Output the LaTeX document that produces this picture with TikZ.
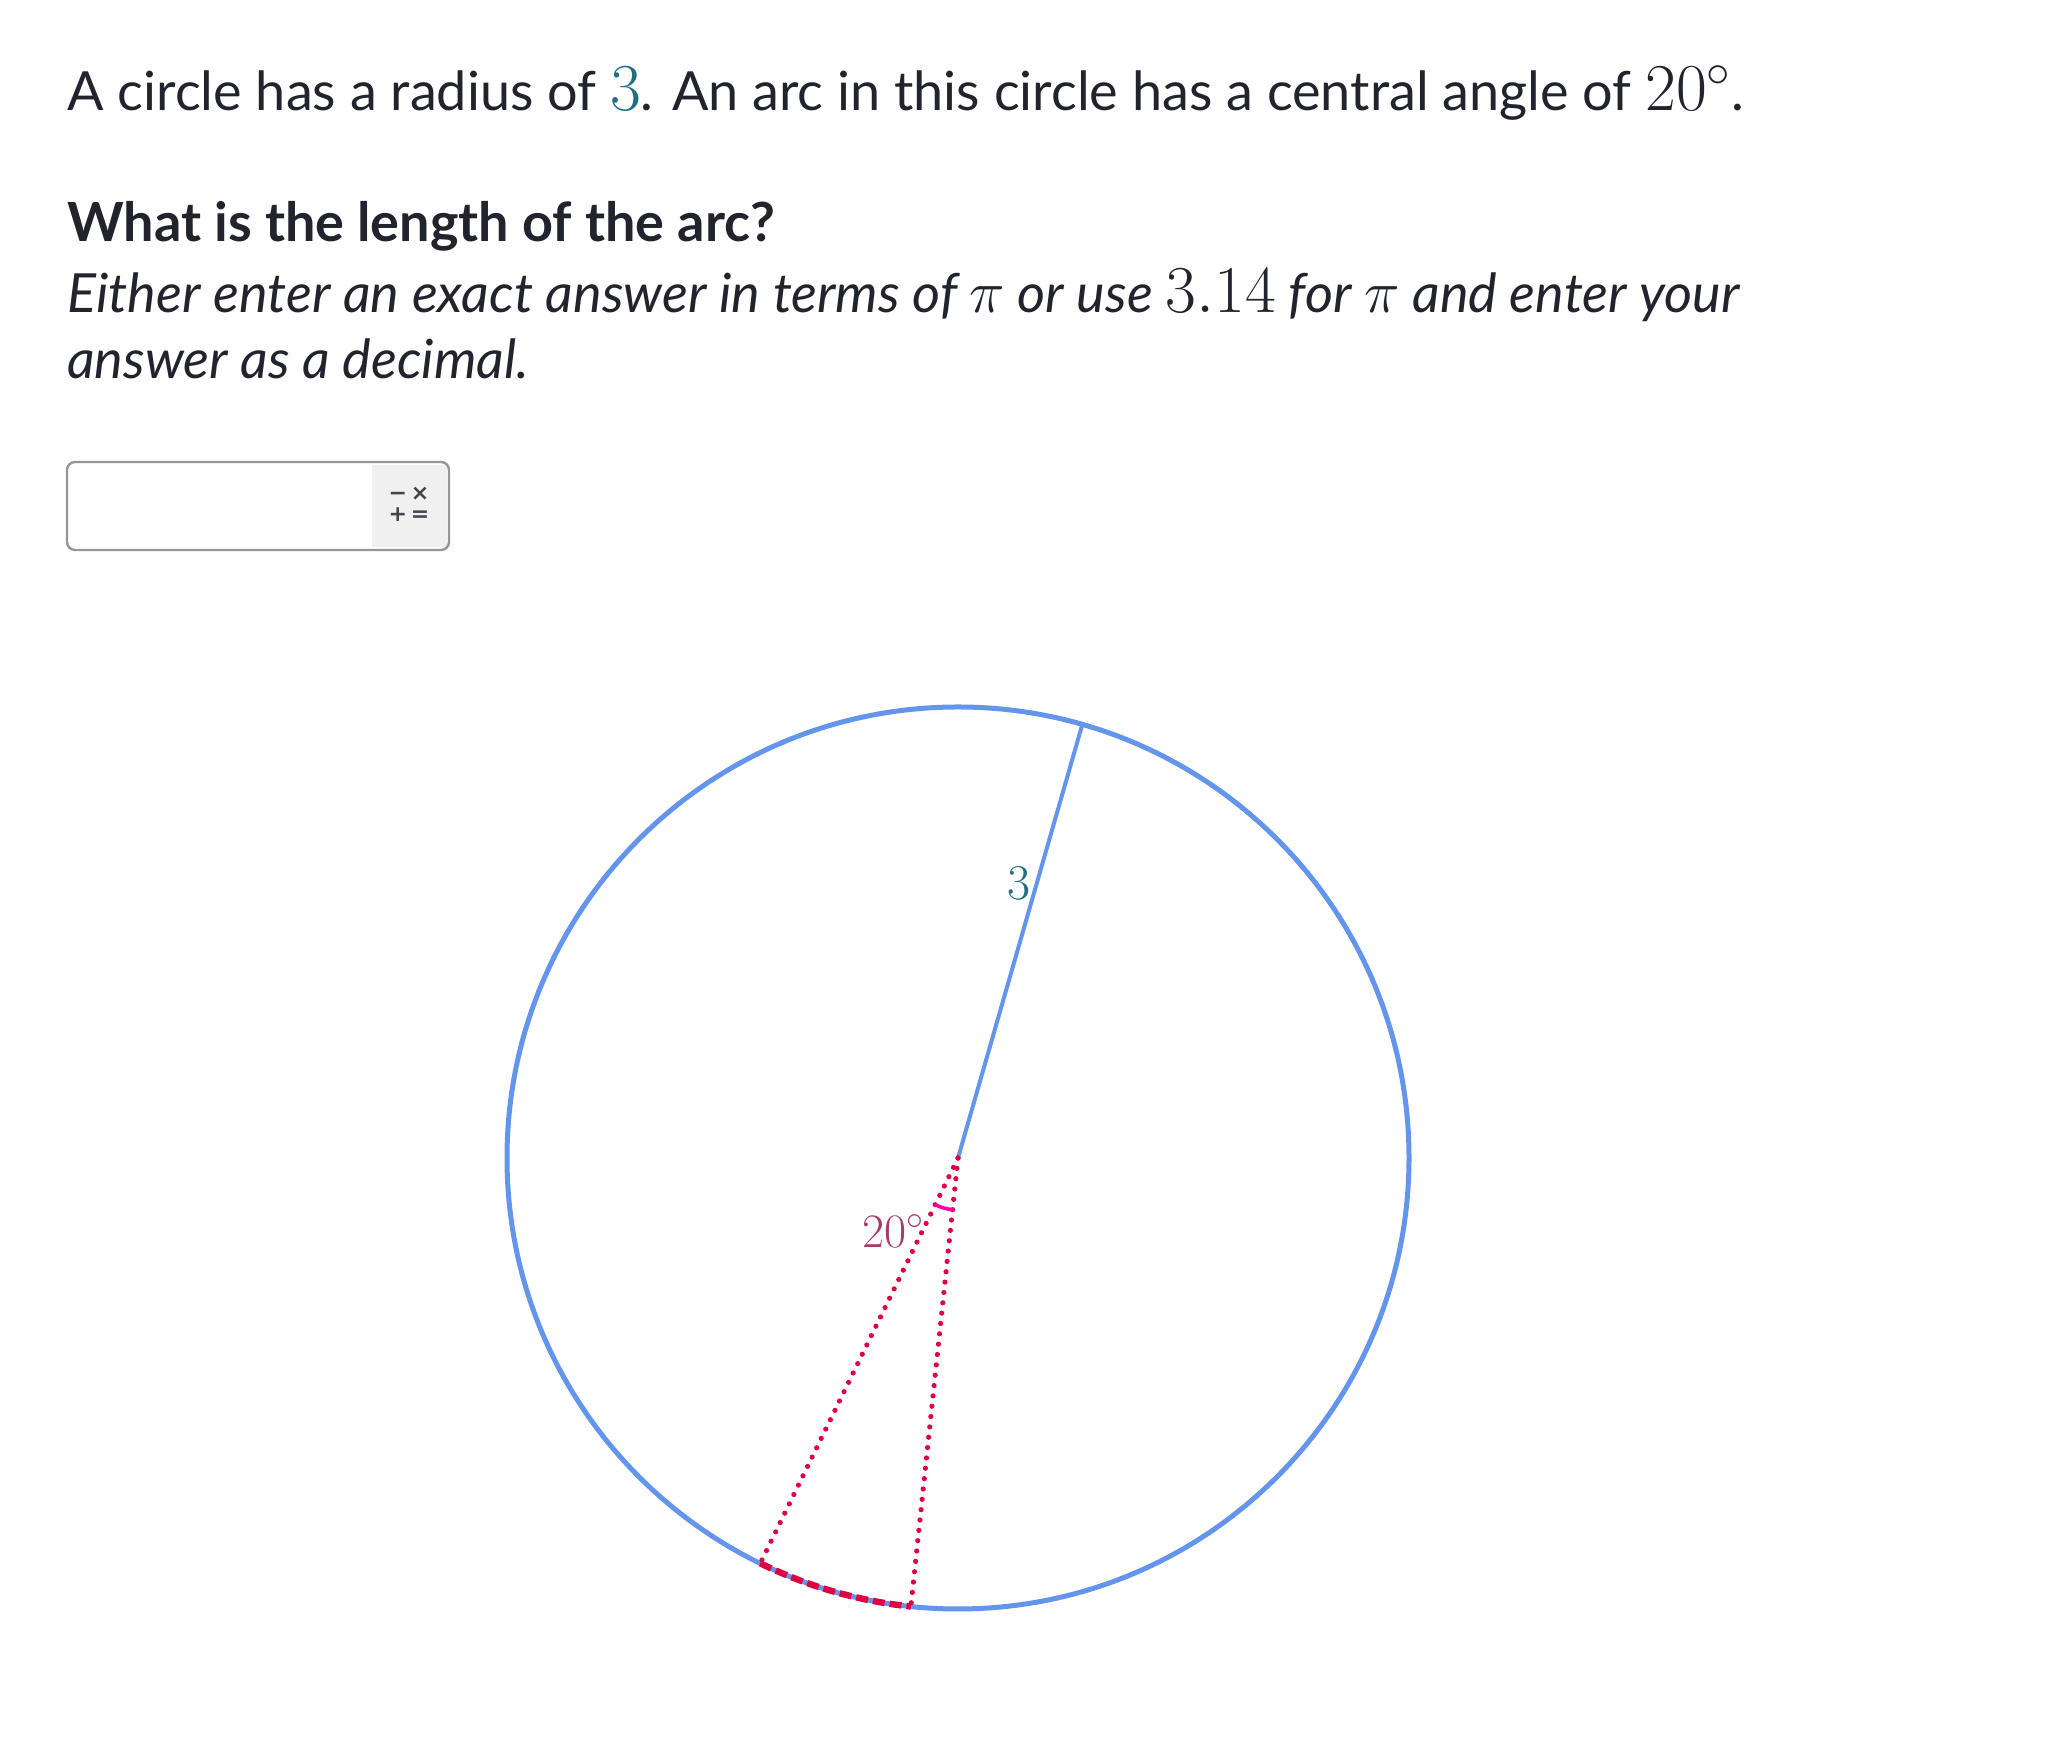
\documentclass[tikz,border=0pt]{standalone}
\usepackage{fix-cm}
\usepackage{fontspec}
\usetikzlibrary{calc}
\setmainfont{Lato}
\newfontfamily\symfont{DejaVu Sans}
\definecolor{txt}{RGB}{33,36,44}
\definecolor{cblue}{RGB}{100,149,237}
\definecolor{teal3}{RGB}{31,110,130}
\definecolor{dred}{RGB}{223,0,67}
\definecolor{magarc}{RGB}{255,0,170}
\definecolor{anglbl}{RGB}{165,60,105}
\definecolor{boxgray}{RGB}{150,150,150}
\definecolor{btngray}{RGB}{240,240,240}
\newcommand\mth[1]{{\fontsize{33.5}{36}\selectfont$#1$}}
\begin{document}
\begin{tikzpicture}[x=0.5pt,y=0.5pt,
  txtline/.style={anchor=base west,inner sep=0pt,text=txt,font=\fontsize{27}{33}\selectfont},
  rim/.style={draw=cblue,line width=2.5pt},
  radline/.style={draw=cblue,line width=2pt},
  dotline/.style={draw=dred,line width=2.6pt,dash pattern=on 0pt off 5.2pt,line cap=round},
  dasharc/.style={draw=dred,line width=3.2pt,dash pattern=on 6pt off 2.5pt},
  angmark/.style={draw=magarc,line width=1.8pt}]
\useasboundingbox (0,0) rectangle (2048,1759);
% texts
\node[txtline] (t1) at (67,1648) {A circle has a radius of \textcolor{teal3}{\mth{3}}. An arc in this circle has a central angle of \mth{20^\circ}.};
\node[txtline,font=\fontsize{27}{33}\selectfont\bfseries] (t2) at (67,1517) {What is the length of the arc?};
\node[txtline,font=\fontsize{27}{33}\selectfont\itshape] (t3) at (67,1446) {Either enter an exact answer in terms of {\fontsize{30}{33}\selectfont$\pi$} or use \mth{3.14} for {\fontsize{30}{33}\selectfont$\pi$} and enter your};
\node[txtline,font=\fontsize{27}{33}\selectfont\itshape] (t4) at (67,1380) {answer as a decimal.};
% input box
\fill[btngray] (372,1212) rectangle (447,1294);
\draw[boxgray,line width=1.2pt,rounded corners=4pt] (67,1209) rectangle (449,1297);
\node[inner sep=0pt,text=txt!85,font=\symfont\bfseries\fontsize{11}{12}\selectfont] (s1) at (409,1265) {−\,×};
\node[inner sep=0pt,text=txt!85,font=\symfont\bfseries\fontsize{11}{12}\selectfont] (s2) at (409,1244) {+\,=};
% circle
\coordinate (O) at (958,601);
\coordinate (R) at ($(O)+(74:451)$);
\coordinate (A) at ($(O)+(244:451)$);
\coordinate (B) at ($(O)+(264:451)$);
\draw[rim] (O) circle (451);
\draw[radline] (O) -- (R);
\draw[dotline] (O) -- (A);
\draw[dotline] (O) -- (B);
\draw[dasharc] (A) arc (244:264:451);
\draw[angmark] ($(O)+(244:52)$) arc (244:264:52);
\node[text=teal3,inner sep=0pt,font=\fontsize{25}{27}\selectfont] (l3) at (1019,876) {$3$};
\node[text=anglbl,inner sep=0pt,font=\fontsize{24}{26}\selectfont] (l20) at (893,528) {$20^\circ$};
\end{tikzpicture}
\end{document}
